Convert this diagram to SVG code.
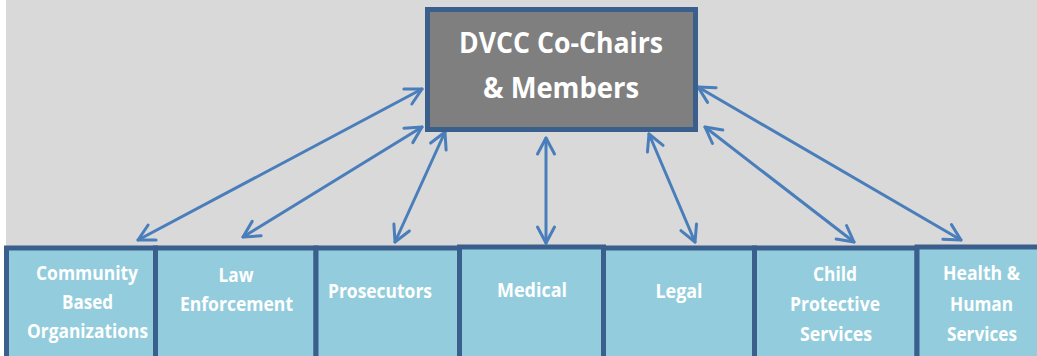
<svg xmlns="http://www.w3.org/2000/svg" width="1037" height="356" viewBox="0 0 1037 356">
  <style>
    .bg { fill: #d9d9d9; }
    .top { fill: #7f7f7f; stroke: #3a5f8d; stroke-width: 5; }
    .unit { fill: #93cddd; stroke: #3a5f8d; stroke-width: 5; }
    .lbl { font-family: "Open Sans", "Liberation Sans", sans-serif; font-weight: bold; fill: #ffffff; text-anchor: middle; }
    .big { font-size: 28px; }
    .small { font-size: 19px; }
    .link { stroke: #4a7ebb; stroke-width: 3; fill: none; stroke-linecap: round; marker-start: url(#chev); marker-end: url(#chev); }
  </style>
  <defs>
    <marker id="chev" markerUnits="userSpaceOnUse" viewBox="-20 -12 24 24" refX="0" refY="0" markerWidth="24" markerHeight="24" orient="auto-start-reverse">
      <path d="M -16 -8.5 L 0 0 L -16 8.5" fill="none" stroke="#4a7ebb" stroke-width="3" stroke-linecap="round" stroke-linejoin="round"/>
    </marker>
  </defs>

  <!-- backdrop -->
  <rect class="bg" x="6" y="0" width="1031" height="250"/>

  <!-- connectors -->
  <g id="connectors">
    <line class="link" x1="138" y1="240" x2="422" y2="89"/>
    <line class="link" x1="243" y1="237" x2="422" y2="127"/>
    <line class="link" x1="395" y1="242" x2="445" y2="132"/>
    <line class="link" x1="546" y1="138" x2="546" y2="243"/>
    <line class="link" x1="649" y1="134" x2="695" y2="242"/>
    <line class="link" x1="705" y1="127" x2="854" y2="242"/>
    <line class="link" x1="698" y1="87" x2="961" y2="240"/>
  </g>

  <!-- central node -->
  <g id="dvcc">
    <rect class="top" x="427.5" y="9.5" width="268" height="120"/>
    <text class="lbl big" x="561" y="53" textLength="204" lengthAdjust="spacingAndGlyphs">DVCC Co-Chairs</text>
    <text class="lbl big" x="561" y="98" textLength="156" lengthAdjust="spacingAndGlyphs">&amp; Members</text>
  </g>

  <!-- partner agencies -->
  <g id="community">
    <rect class="unit" x="6.5" y="248" width="149" height="120"/>
    <text class="lbl small" x="87" y="280" textLength="102" lengthAdjust="spacingAndGlyphs">Community</text>
    <text class="lbl small" x="87.5" y="309" textLength="51" lengthAdjust="spacingAndGlyphs">Based</text>
    <text class="lbl small" x="87.5" y="338" textLength="121" lengthAdjust="spacingAndGlyphs">Organizations</text>
  </g>
  <g id="law">
    <rect class="unit" x="155.5" y="248" width="160.5" height="120"/>
    <text class="lbl small" x="236" y="282" textLength="35" lengthAdjust="spacingAndGlyphs">Law</text>
    <text class="lbl small" x="236.5" y="311" textLength="113" lengthAdjust="spacingAndGlyphs">Enforcement</text>
  </g>
  <g id="prosecutors">
    <rect class="unit" x="316" y="248" width="143.5" height="120"/>
    <text class="lbl small" x="380" y="298" textLength="104" lengthAdjust="spacingAndGlyphs">Prosecutors</text>
  </g>
  <g id="medical">
    <rect class="unit" x="459.5" y="247" width="144" height="120"/>
    <text class="lbl small" x="532" y="297" textLength="70" lengthAdjust="spacingAndGlyphs">Medical</text>
  </g>
  <g id="legal">
    <rect class="unit" x="603.5" y="248" width="151" height="120"/>
    <text class="lbl small" x="679" y="298" textLength="47" lengthAdjust="spacingAndGlyphs">Legal</text>
  </g>
  <g id="cps">
    <rect class="unit" x="754.5" y="248" width="162.5" height="120"/>
    <text class="lbl small" x="835" y="281" textLength="44" lengthAdjust="spacingAndGlyphs">Child</text>
    <text class="lbl small" x="835" y="311" textLength="90" lengthAdjust="spacingAndGlyphs">Protective</text>
    <text class="lbl small" x="836" y="341" textLength="72" lengthAdjust="spacingAndGlyphs">Services</text>
  </g>
  <g id="hhs">
    <rect class="unit" x="917" y="247" width="130" height="120"/>
    <text class="lbl small" x="981.5" y="280" textLength="77" lengthAdjust="spacingAndGlyphs">Health &amp;</text>
    <text class="lbl small" x="981.5" y="311" textLength="63" lengthAdjust="spacingAndGlyphs">Human</text>
    <text class="lbl small" x="982" y="341" textLength="70" lengthAdjust="spacingAndGlyphs">Services</text>
  </g>
</svg>
